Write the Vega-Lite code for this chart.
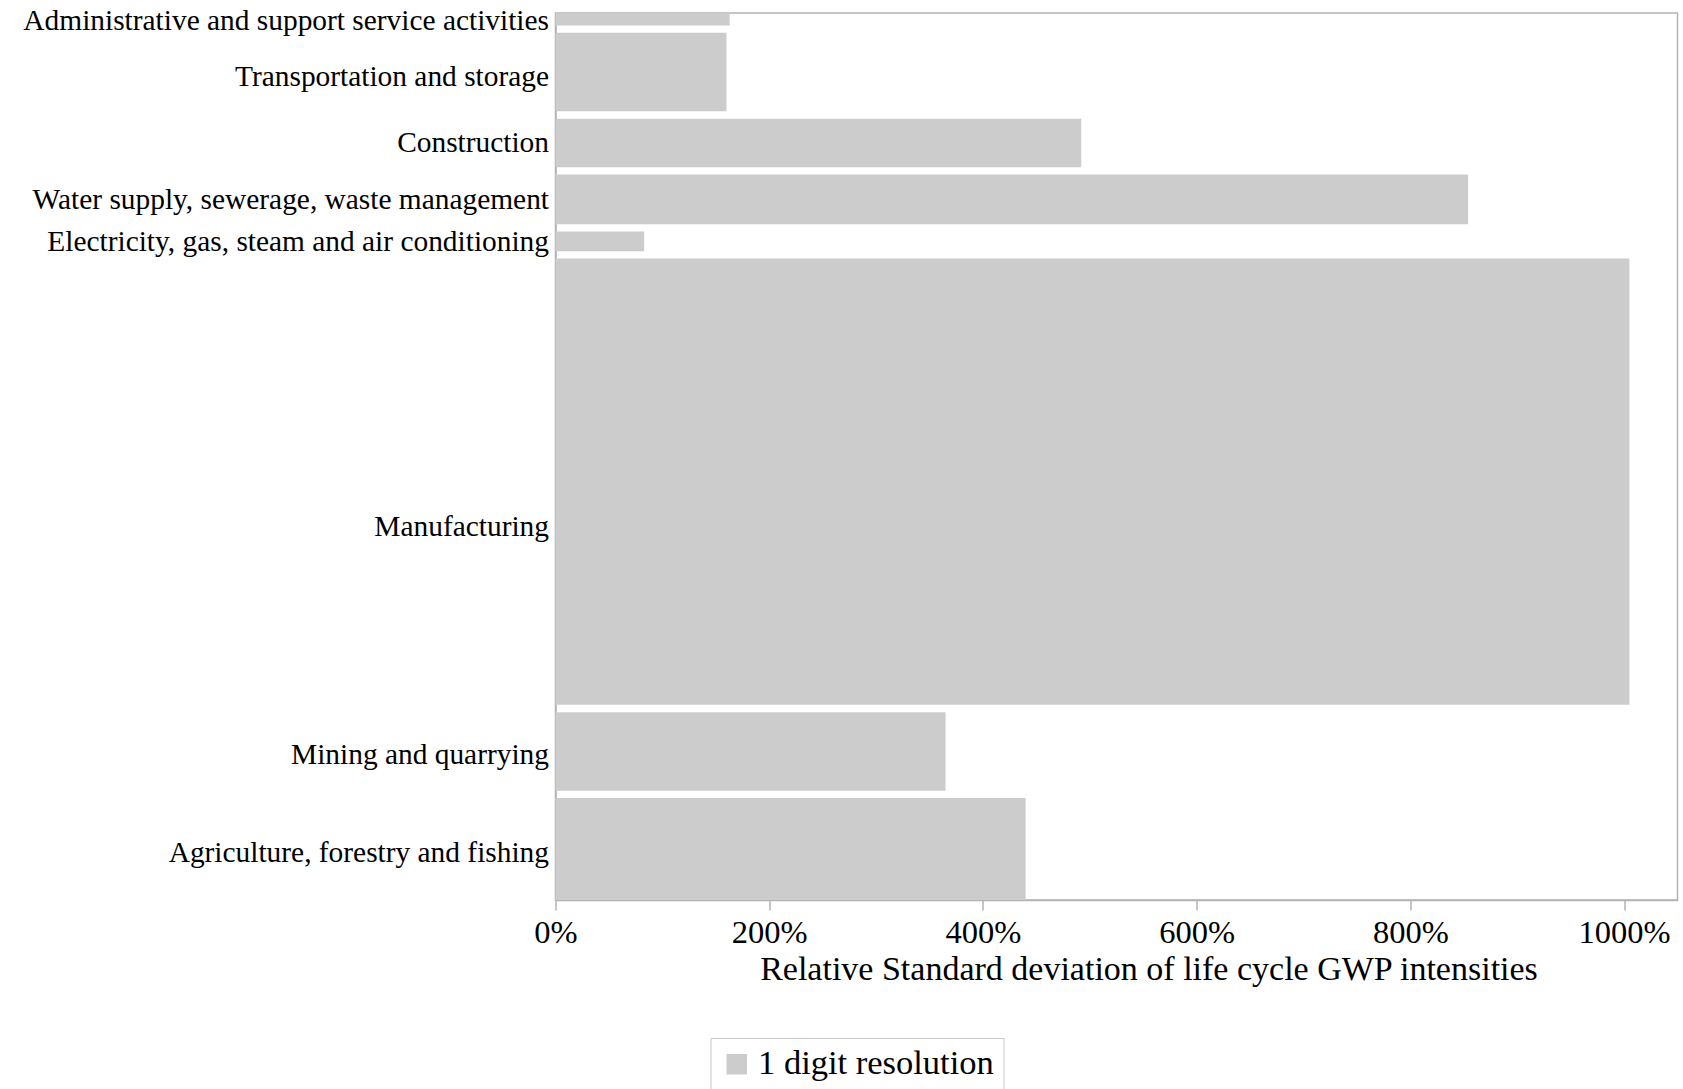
{
  "$schema": "https://vega.github.io/schema/vega-lite/v6.json",
  "width": 1122,
  "height": 887,
  "padding": {"left": 22.5, "top": 5, "right": 5, "bottom": 0},
  "background": "white",
  "config": {
    "font": "Liberation Serif",
    "view": {"stroke": "#b3b3b3", "strokeWidth": 1.5}
  },
  "data": {
    "values": [
      {"sector": "Agriculture, forestry and fishing", "y0": 0, "y1": 11.49, "rsd": 4.40, "series": "1 digit resolution"},
      {"sector": "Mining and quarrying", "y0": 12.31, "y1": 21.18, "rsd": 3.65, "series": "1 digit resolution"},
      {"sector": "Manufacturing", "y0": 22.0, "y1": 72.32, "rsd": 10.05, "series": "1 digit resolution"},
      {"sector": "Electricity, gas, steam and air conditioning", "y0": 73.14, "y1": 75.36, "rsd": 0.83, "series": "1 digit resolution"},
      {"sector": "Water supply, sewerage, waste management", "y0": 76.19, "y1": 81.78, "rsd": 8.54, "series": "1 digit resolution"},
      {"sector": "Construction", "y0": 82.61, "y1": 88.09, "rsd": 4.92, "series": "1 digit resolution"},
      {"sector": "Transportation and storage", "y0": 88.92, "y1": 97.78, "rsd": 1.60, "series": "1 digit resolution"},
      {"sector": "Administrative and support service activities", "y0": 98.6, "y1": 100, "rsd": 1.63, "series": "1 digit resolution"}
    ]
  },
  "mark": {"type": "bar", "opacity": 1},
  "encoding": {
    "x": {
      "field": "rsd",
      "type": "quantitative",
      "scale": {"domain": [0, 10.5], "nice": false, "zero": true},
      "axis": {
        "values": [0, 2, 4, 6, 8, 10],
        "format": ".0%",
        "grid": false,
        "domainColor": "#b3b3b3",
        "domainWidth": 1.5,
        "tickColor": "#b3b3b3",
        "tickWidth": 1.5,
        "tickSize": 10,
        "labelFont": "Liberation Serif",
        "labelFontSize": 32.5,
        "labelColor": "#000000",
        "labelPadding": 6,
        "labelFlush": false,
        "title": "Relative Standard deviation of life cycle GWP intensities",
        "titleFont": "Liberation Serif",
        "titleFontSize": 34,
        "titleFontWeight": "normal",
        "titleColor": "#000000",
        "titlePadding": 4,
        "titleX": 593,
        "titleAlign": "center",
        "titleAnchor": null
      }
    },
    "x2": {"datum": 0},
    "y": {
      "field": "y0",
      "type": "quantitative",
      "scale": {"domain": [0, 100], "nice": false, "zero": true},
      "axis": {
        "values": [5.38, 16.39, 42.08, 74.25, 78.985, 85.35, 92.87, 99.1],
        "labelExpr": "datum.value < 10 ? 'Agriculture, forestry and fishing' : datum.value < 20 ? 'Mining and quarrying' : datum.value < 60 ? 'Manufacturing' : datum.value < 76 ? 'Electricity, gas, steam and air conditioning' : datum.value < 82 ? 'Water supply, sewerage, waste management' : datum.value < 88 ? 'Construction' : datum.value < 96 ? 'Transportation and storage' : 'Administrative and support service activities'",
        "grid": false,
        "ticks": false,
        "domainColor": "#b3b3b3",
        "domainWidth": 1.5,
        "labelFont": "Liberation Serif",
        "labelFontSize": 29.4,
        "labelColor": "#000000",
        "labelPadding": 7,
        "labelLimit": 800,
        "labelOverlap": false,
        "labelBound": false,
        "labelFlush": false,
        "title": null
      }
    },
    "y2": {"field": "y1"},
    "color": {
      "field": "series",
      "type": "nominal",
      "scale": {"range": ["#cccccc"]},
      "legend": {
        "title": null,
        "orient": "none",
        "legendX": 155,
        "legendY": 1025,
        "symbolType": "square",
        "symbolSize": 420,
        "symbolStrokeWidth": 0,
        "labelFont": "Liberation Serif",
        "labelFontSize": 34.5,
        "labelColor": "#000000",
        "labelLimit": 500,
        "strokeColor": "#c8c8c8",
        "padding": 9
      }
    }
  }
}
